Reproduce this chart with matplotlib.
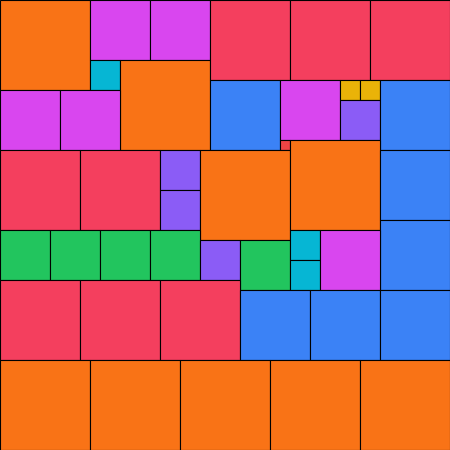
import matplotlib
matplotlib.use("Agg")
import matplotlib.pyplot as plt
from matplotlib.patches import Rectangle

# Square tiles: left, top, side length, group
tile_x = [0, 90, 150, 90, 120, 210, 290, 370, 0, 60, 210, 280, 340, 360, 340, 380, 280,
          0, 80, 160, 160, 200, 290, 380, 380,
          0, 50, 100, 150, 200, 240, 290, 290, 320,
          0, 80, 160, 240, 310, 380,
          0, 90, 180, 270, 360]
tile_y = [0, 0, 0, 60, 60, 0, 0, 0, 90, 90, 80, 80, 80, 80, 100, 80, 140,
          150, 150, 150, 190, 150, 140, 150, 220,
          230, 230, 230, 230, 240, 240, 230, 260, 230,
          280, 280, 280, 290, 290, 290,
          360, 360, 360, 360, 360]
tile_size = [90, 60, 60, 30, 90, 80, 80, 80, 60, 60, 70, 60, 20, 20, 40, 70, 10,
             80, 80, 40, 40, 90, 90, 70, 70,
             50, 50, 50, 50, 40, 50, 30, 30, 60,
             80, 80, 80, 70, 70, 70,
             90, 90, 90, 90, 90]
tile_group = ["orange", "fuchsia", "fuchsia", "cyan", "orange", "rose", "rose", "rose",
              "fuchsia", "fuchsia", "blue", "fuchsia", "yellow", "yellow", "violet", "blue", "red",
              "rose", "rose", "violet", "violet", "orange", "orange", "blue", "blue",
              "green", "green", "green", "green", "violet", "green", "cyan", "cyan", "fuchsia",
              "rose", "rose", "rose", "blue", "blue", "blue",
              "orange", "orange", "orange", "orange", "orange"]

palette = {
    "orange": "#f97316", "fuchsia": "#d946ef", "cyan": "#06b6d4", "rose": "#f43f5e",
    "blue": "#3b82f6", "yellow": "#eab308", "violet": "#8b5cf6", "red": "#ef4444",
    "green": "#22c55e",
}

fig = plt.figure(figsize=(4.5, 4.5), dpi=100)
ax = fig.add_axes([0, 0, 1, 1])
for x, y, s, g in zip(tile_x, tile_y, tile_size, tile_group):
    ax.add_patch(Rectangle((x, y), s, s, facecolor=palette[g], edgecolor="black", linewidth=0.8))
ax.set_xlim(0, 450)
ax.set_ylim(450, 0)
ax.axis("off")
fig.savefig("out.png", dpi=100)
